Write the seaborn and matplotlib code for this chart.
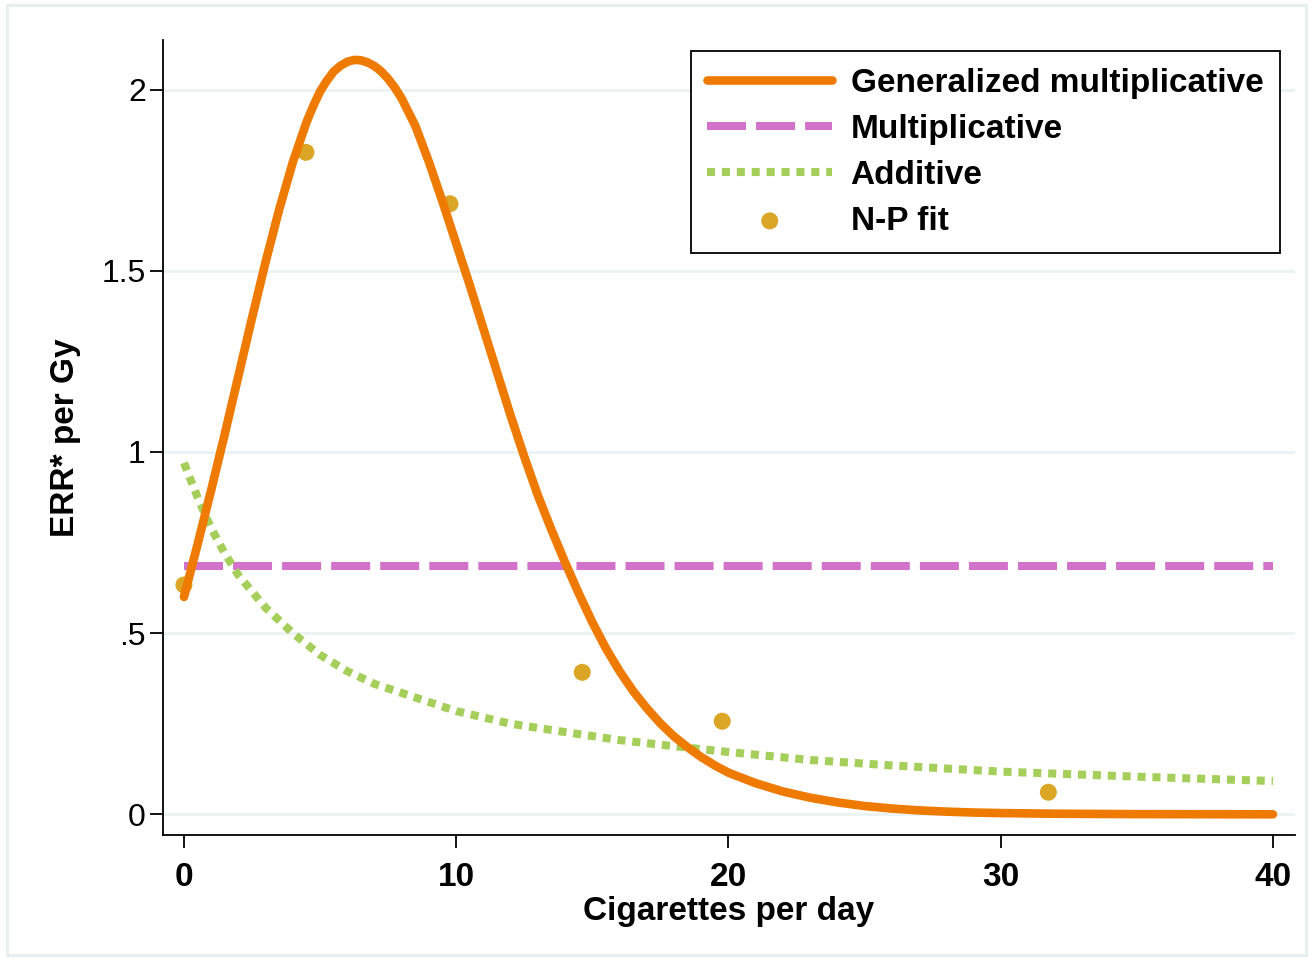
import numpy as np
import pandas as pd
import matplotlib
matplotlib.use("Agg")
import matplotlib.pyplot as plt
from matplotlib.patches import Rectangle
import seaborn as sns

# generalized multiplicative model
gm_x = [0, 0.5, 1, 1.5, 2, 2.5, 3, 3.5, 4, 4.5, 4.75, 5, 5.25, 5.5, 5.75, 6, 6.25, 6.5,
        6.75, 7, 7.25, 7.5, 7.75, 8, 8.5, 9, 9.5, 10, 10.5, 11, 11.5, 12, 12.5, 13, 13.5,
        14, 14.5, 15, 15.5, 16, 16.5, 17, 17.5, 18, 18.5, 19, 19.5, 20, 21, 22, 23, 24,
        25, 26, 27, 28, 29, 30, 32, 35, 40]
gm_y = [0.60, 0.745, 0.895, 1.05, 1.21, 1.37, 1.525, 1.67, 1.80, 1.91, 1.955, 1.995, 2.025,
        2.05, 2.066, 2.077, 2.082, 2.081, 2.075, 2.065, 2.05, 2.03, 2.005, 1.975, 1.90,
        1.80, 1.69, 1.575, 1.46, 1.34, 1.22, 1.10, 0.987, 0.88, 0.785, 0.695, 0.61, 0.53,
        0.458, 0.395, 0.34, 0.293, 0.251, 0.215, 0.185, 0.158, 0.135, 0.115, 0.086, 0.063,
        0.046, 0.033, 0.023, 0.016, 0.011, 0.0075, 0.005, 0.0035, 0.0017, 0.0006, 0.0001]

# multiplicative model
mult_x = [0, 40]
mult_y = [0.685, 0.685]

# additive model
add_x = [0, 0.5, 1, 1.5, 2, 3, 4, 5, 6, 7, 8, 9, 10, 12, 14, 16, 18, 20, 23, 26, 30, 35, 40]
add_y = [0.97, 0.875, 0.79, 0.72, 0.66, 0.57, 0.50, 0.44, 0.395, 0.36, 0.335, 0.31, 0.285,
         0.25, 0.227, 0.205, 0.188, 0.172, 0.15, 0.135, 0.118, 0.104, 0.092]

# non-parametric fit
np_x = [0, 4.48, 9.77, 14.63, 19.77, 31.75]
np_y = [0.633, 1.827, 1.685, 0.392, 0.257, 0.061]

xticks = [0, 10, 20, 30, 40]
xtick_labels = ["0", "10", "20", "30", "40"]
yticks = [0, 0.5, 1, 1.5, 2]
ytick_labels = ["0", ".5", "1", "1.5", "2"]

sns.set_theme(style="white")
plt.rcParams["font.family"] = ["Liberation Sans", "DejaVu Sans"]
plt.rcParams.update({"text.color": "black", "axes.labelcolor": "black",
                     "xtick.color": "black", "ytick.color": "black"})

fig = plt.figure(figsize=(13.13, 9.6), dpi=100)
ax = fig.add_axes([163 / 1313, 1 - 835 / 960, (1295 - 163) / 1313, (835 - 40) / 960])

# light outline around the graph region
fig.patches.append(Rectangle((7 / 1313, 5 / 960), 1299 / 1313, 950 / 960,
                             transform=fig.transFigure, fill=False,
                             edgecolor="#e6eef0", linewidth=2.2, zorder=0))

sns.scatterplot(x=np_x, y=np_y, ax=ax, color="#dba626", s=150, edgecolor="none",
                label="N-P fit", zorder=2)
sns.lineplot(x=mult_x, y=mult_y, ax=ax, color="#d272ca", linewidth=5.8,
             linestyle=(0, (4.84, 1.25)), label="Multiplicative", zorder=3)
sns.lineplot(x=add_x, y=add_y, ax=ax, color="#a5ce5b", linewidth=5.8,
             linestyle=(0, (1, 0.85)), label="Additive", zorder=4)
sns.lineplot(x=gm_x, y=gm_y, ax=ax, color="#ef7a00", linewidth=6.2,
             solid_joinstyle="round", label="Generalized multiplicative", zorder=5)

ax.set_xlim(-0.77, 40.81)
ax.set_ylim(-0.057, 2.137)
ax.set_xticks(xticks)
ax.set_xticklabels(xtick_labels, fontsize=24, fontweight="bold")
ax.set_yticks(yticks)
ax.set_yticklabels(ytick_labels, fontsize=23)
ax.tick_params(axis="both", direction="out", length=9.4, width=1.3, color="black",
               left=True, bottom=True)
ax.tick_params(axis="x", pad=10)
ax.tick_params(axis="y", pad=3)

ax.yaxis.grid(True, color="#eaf2f3", linewidth=2)
ax.xaxis.grid(False)
ax.set_axisbelow(True)
for side in ["top", "right"]:
    ax.spines[side].set_visible(False)
for side in ["left", "bottom"]:
    ax.spines[side].set_color("black")
    ax.spines[side].set_linewidth(1.3)

ax.set_xlabel("Cigarettes per day", fontsize=24, fontweight="bold", labelpad=2)
ax.set_ylabel("ERR* per Gy", fontsize=24, fontweight="bold", labelpad=15)

handles, labels = ax.get_legend_handles_labels()
order = ["Generalized multiplicative", "Multiplicative", "Additive", "N-P fit"]
hmap = dict(zip(labels, handles))
leg = ax.legend([hmap[k] for k in order], order, loc="upper right",
                bbox_to_anchor=((1280 - 163) / 1132, 0.9862), borderaxespad=0,
                prop={"size": 24, "weight": "bold"}, handlelength=3.75,
                handletextpad=0.55, labelspacing=0.45, borderpad=0.5,
                fancybox=False, framealpha=1, edgecolor="black", scatterpoints=1)
leg.get_frame().set_linewidth(1.3)

fig.savefig("out.png", dpi=100)
